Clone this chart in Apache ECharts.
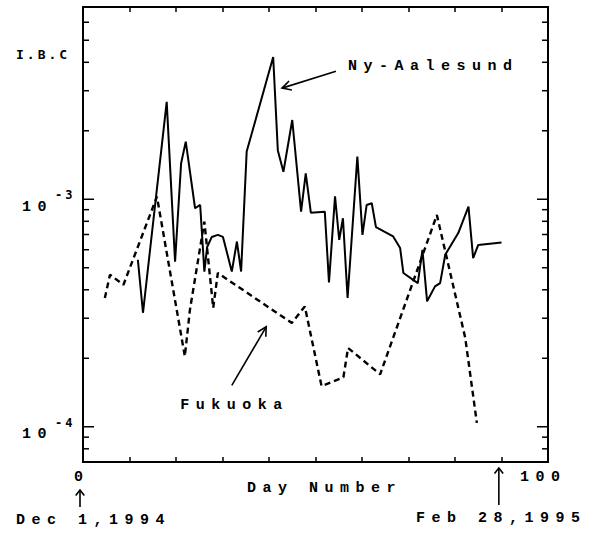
<!DOCTYPE html>
<html>
<head>
<meta charset="utf-8">
<script src="https://cdn.jsdelivr.net/npm/echarts@6/dist/echarts.min.js"></script>
<style>
html, body { margin: 0; padding: 0; background: #fff; }
#c { width: 595px; height: 533px; }
#c text[style*="Liberation Mono"], #c text[font-family*="Liberation Mono"] { letter-spacing: 6.5px; }
#c text[style*="DejaVu Sans Mono"], #c text[font-family*="DejaVu Sans Mono"] { letter-spacing: 3px; }
</style>
</head>
<body>
<div id="c"></div>
<script>
// ---- data ----
const nyDays = [11.8, 12.9, 18.0, 19.8, 21.1, 22.1, 24.1, 25.2, 26.1, 26.7, 27.7, 29.0, 30.1, 32.0, 33.1, 34.0, 35.2,
  40.9, 41.9, 43.1, 45.0, 46.9, 47.9, 49.0, 52.0, 52.9, 54.2, 55.1, 55.9, 56.9, 59.0, 60.1, 61.0, 62.1, 63.0,
  66.7, 68.2, 68.9, 72.0, 73.0, 74.0, 75.7, 76.8, 77.9, 80.7, 82.9, 83.9, 85.0, 90.0];
const nyIBC = [5.42e-4, 3.17e-4, 2.68e-3, 5.32e-4, 1.44e-3, 1.79e-3, 9.13e-4, 9.44e-4, 4.81e-4, 6.17e-4, 6.83e-4, 6.97e-4, 6.83e-4,
  4.81e-4, 6.52e-4, 4.81e-4, 1.62e-3, 4.22e-3, 1.64e-3, 1.32e-3, 2.23e-3, 8.82e-4, 1.30e-3, 8.73e-4, 8.82e-4, 4.31e-4,
  1.03e-3, 6.63e-4, 8.25e-4, 3.68e-4, 1.54e-3, 6.97e-4, 9.44e-4, 9.60e-4, 7.54e-4, 6.86e-4, 6.10e-4, 4.74e-4, 4.28e-4,
  5.99e-4, 3.56e-4, 4.14e-4, 4.28e-4, 5.70e-4, 7.10e-4, 9.28e-4, 5.51e-4, 6.30e-4, 6.45e-4];

const fukDays = [4.7, 5.8, 8.7, 15.9, 21.9, 23.0, 26.1, 28.0, 29.0, 44.9, 47.7, 51.3, 56.0, 57.0, 63.9, 76.1, 82.2, 84.7];
const fukIBC = [3.68e-4, 4.66e-4, 4.21e-4, 1.027e-3, 2.04e-4, 3.27e-4, 7.97e-4, 3.33e-4, 4.74e-4, 2.86e-4, 3.38e-4,
  1.51e-4, 1.65e-4, 2.22e-4, 1.70e-4, 8.53e-4, 2.46e-4, 1.04e-4];

const yMajorTicks = [1e-4, 1e-3];
const yMinorTicks = [8e-5, 9e-5, 2e-4, 3e-4, 4e-4, 5e-4, 6e-4, 7e-4, 8e-4, 9e-4, 2e-3, 3e-3, 4e-3, 5e-3, 6e-3];
const yTickLabels = [{ value: 1e-3, base: '10', exp: '-3' }, { value: 1e-4, base: '10', exp: '-4' }];
const xTickLabels = [{ value: 0, text: '0' }, { value: 100, text: '100' }];
const seriesNames = ['Ny-Aalesund', 'Fukuoka'];
const yTitle = 'I.B.C';
const xTitle = 'Day Number';
const startDate = 'Dec 1,1994';
const endDate = 'Feb 28,1995';
const endDay = 89;

// ---- layout ----
const X_MIN = 0, X_MAX = 100, Y_MIN = 7e-5, Y_MAX = 7e-3;
const INK = '#000';
const WIDE = 'bold 15px "Liberation Mono"';
const NARROW = 'bold 13px "DejaVu Sans Mono"';
const SUP = 'bold 12px "DejaVu Sans Mono"';

const zip = (a, b) => a.map((v, i) => [v, b[i]]);
const tickData = yMajorTicks.map(v => [X_MIN, v, 11]).concat(yMinorTicks.map(v => [X_MIN, v, 6]));

const chart = echarts.init(document.getElementById('c'), null, { renderer: 'svg', width: 595, height: 533 });

const xAxisBase = {
  type: 'value', min: X_MIN, max: X_MAX, interval: 10,
  axisLine: { show: false },
  axisTick: { show: true, inside: true, length: 5, lineStyle: { color: INK, width: 1.5 } },
  axisLabel: { show: false },
  splitLine: { show: false }
};

chart.setOption({
  animation: false,
  backgroundColor: '#fff',
  grid: { left: 83, right: 47, top: 7, bottom: 71, show: true, borderColor: INK, borderWidth: 2, backgroundColor: 'transparent' },
  xAxis: [Object.assign({}, xAxisBase), Object.assign({}, xAxisBase, { position: 'top' })],
  yAxis: {
    type: 'log', logBase: 10, min: Y_MIN, max: Y_MAX,
    axisLine: { show: false }, axisTick: { show: false }, axisLabel: { show: false }, splitLine: { show: false }
  },
  series: [
    { name: seriesNames[0], type: 'line', data: zip(nyDays, nyIBC), symbol: 'none', silent: true,
      lineStyle: { color: INK, width: 2 } },
    { name: seriesNames[1], type: 'line', data: zip(fukDays, fukIBC), symbol: 'none', silent: true,
      lineStyle: { color: INK, width: 2.4, type: [6, 4] } },
    { type: 'custom', silent: true, data: tickData,
      renderItem: function (params, api) {
        const v = api.value(1), len = api.value(2);
        const pl = api.coord([X_MIN, v]);
        const pr = api.coord([X_MAX, v]);
        const st = { stroke: INK, lineWidth: 1.5 };
        return { type: 'group', children: [
          { type: 'line', shape: { x1: pl[0], y1: pl[1], x2: pl[0] + len, y2: pl[1] }, style: st },
          { type: 'line', shape: { x1: pr[0] - len, y1: pr[1], x2: pr[0], y2: pr[1] }, style: st }
        ] };
      }
    }
  ]
});

const px = (x, y) => chart.convertToPixel({ xAxisIndex: 0, yAxisIndex: 0 }, [x, y]);

function txt(text, x, y, font) {
  return { type: 'text', x: x, y: y, silent: true,
    style: { text: text, font: font, fill: INK, align: 'left', verticalAlign: 'middle' } };
}
function arrow(tail, tip, wing, angDeg) {
  const dx = tip[0] - tail[0], dy = tip[1] - tail[1];
  const L = Math.hypot(dx, dy), ux = dx / L, uy = dy / L;
  const a = angDeg * Math.PI / 180, c = Math.cos(a), s = Math.sin(a);
  const w1 = [tip[0] - wing * (ux * c - uy * s), tip[1] - wing * (uy * c + ux * s)];
  const w2 = [tip[0] - wing * (ux * c + uy * s), tip[1] - wing * (uy * c - ux * s)];
  const st = { stroke: INK, lineWidth: 1.6, fill: null };
  return [
    { type: 'line', silent: true, shape: { x1: tail[0], y1: tail[1], x2: tip[0], y2: tip[1] }, style: st },
    { type: 'polyline', silent: true, shape: { points: [w1, tip, w2] }, style: st }
  ];
}

const g = [];
const bl = px(X_MIN, Y_MIN);
// y title and tick labels
g.push(txt(yTitle, 16, 54, NARROW));
yTickLabels.forEach(t => {
  const p = px(X_MIN, t.value);
  g.push(txt(t.base, p[0] - 61, p[1] + 8, WIDE));
  g.push(txt(t.exp, p[0] - 28, p[1] - 4, SUP));
});
// x tick labels
xTickLabels.forEach(t => {
  const p = px(t.value, Y_MIN);
  const dx = t.value === X_MIN ? -9 : -28;
  g.push(txt(t.text, p[0] + dx, p[1] + 15.5, WIDE));
});
g.push(txt(xTitle, 247, bl[1] + 26, WIDE));
// date arrows
const p0 = px(X_MIN, Y_MIN);
g.push.apply(g, arrow([p0[0] - 3, bl[1] + 45], [p0[0] - 3, bl[1] + 28], 7, 38));
g.push(txt(startDate, 16, bl[1] + 58, WIDE));
const pe = px(endDay, Y_MIN);
g.push.apply(g, arrow([pe[0] + 2, bl[1] + 43], [pe[0] + 2, bl[1] + 6], 7, 38));
g.push(txt(endDate, 416, bl[1] + 56, WIDE));
// series annotations (anchored in data space)
const nyLab = px(57.0, 3.84e-3);
g.push(txt(seriesNames[0], nyLab[0], nyLab[1], WIDE));
g.push.apply(g, arrow(px(54.4, 3.65e-3), px(42.8, 3.08e-3), 10, 28));
const fkLab = px(20.9, 1.24e-4);
g.push(txt(seriesNames[1], fkLab[0], fkLab[1], WIDE));
g.push.apply(g, arrow(px(32.0, 1.52e-4), px(39.4, 2.75e-4), 10, 28));

chart.setOption({ graphic: g });
</script>
</body>
</html>
